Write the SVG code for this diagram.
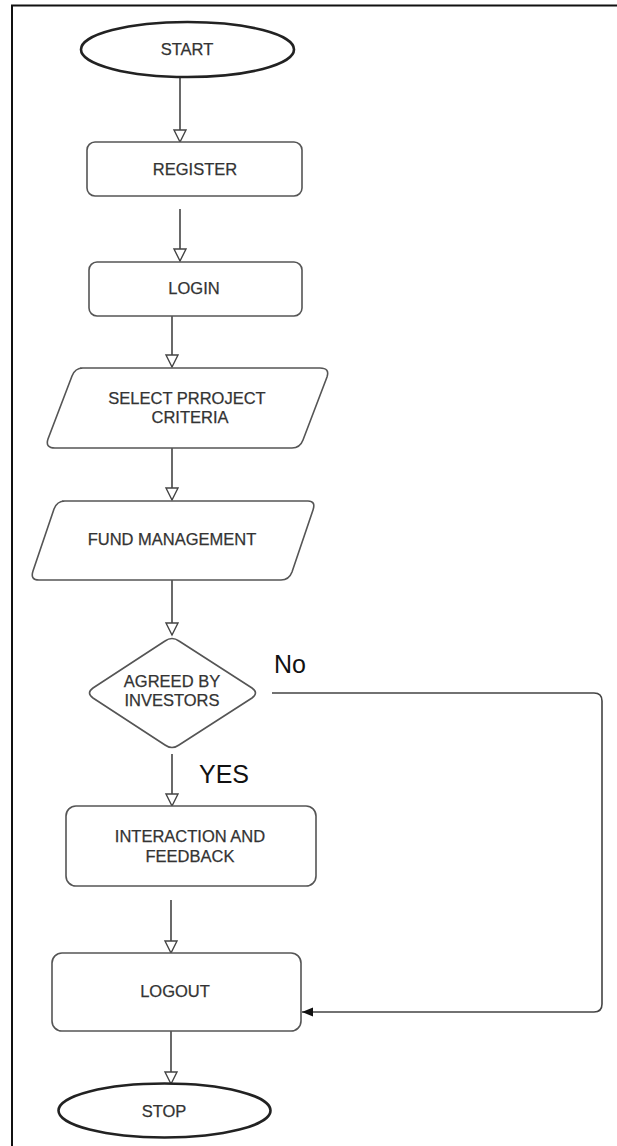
<svg xmlns="http://www.w3.org/2000/svg" width="617" height="1146" viewBox="0 0 617 1146">
<defs>
<style>
.box{fill:#fff;stroke:#555;stroke-width:1.6}
.term{fill:#fff;stroke:#222;stroke-width:2.6}
.lbl{font-family:"Liberation Sans",Arial,sans-serif;font-size:16.5px;fill:#333;text-anchor:middle;dominant-baseline:central;stroke:#333;stroke-width:0.25}
.big{font-family:"Liberation Sans",Arial,sans-serif;font-size:25px;fill:#111}
.edge{fill:none;stroke:#444;stroke-width:1.6}
</style>
<marker id="open" markerWidth="16" markerHeight="16" refX="13" refY="7" orient="auto" markerUnits="userSpaceOnUse">
<path d="M1,1 L13,7 L1,13 Z" fill="#fff" stroke="#444" stroke-width="1.4"/>
</marker>
<marker id="fill" markerWidth="14" markerHeight="12" refX="11" refY="6" orient="auto" markerUnits="userSpaceOnUse">
<path d="M0,1.5 L11,6 L0,10.5 Z" fill="#111"/>
</marker>
</defs>
<rect width="617" height="1146" fill="#fff"/>
<g id="frame" fill="none" stroke="#111" stroke-width="2">
<path d="M12,1146 L12,5.5 L617,5.5"/>
</g>
<g id="connectors">
<line class="edge" x1="180" y1="77" x2="180" y2="142" marker-end="url(#open)"/>
<line class="edge" x1="180" y1="209" x2="180" y2="261" marker-end="url(#open)"/>
<line class="edge" x1="172" y1="316" x2="172" y2="367" marker-end="url(#open)"/>
<line class="edge" x1="172" y1="448" x2="172" y2="500" marker-end="url(#open)"/>
<line class="edge" x1="172" y1="580" x2="172" y2="635" marker-end="url(#open)"/>
<line class="edge" x1="172" y1="754" x2="172" y2="806" marker-end="url(#open)"/>
<line class="edge" x1="171" y1="900" x2="171" y2="953" marker-end="url(#open)"/>
<line class="edge" x1="171" y1="1031" x2="171" y2="1084" marker-end="url(#open)"/>
<path class="edge" d="M272,693 L594,693 Q602,693 602,701 L602,1004 Q602,1012 594,1012 L302,1012" marker-end="url(#fill)"/>
<text class="big" x="274" y="673">No</text>
<text class="big" x="199" y="783">YES</text>
</g>
<g id="start">
<ellipse class="term" cx="187.5" cy="49.5" rx="106.5" ry="27.5"/>
<text class="lbl" x="187" y="49">START</text>
</g>
<g id="register">
<rect class="box" x="87" y="142" width="215" height="54" rx="8"/>
<text class="lbl" x="195" y="169">REGISTER</text>
</g>
<g id="login">
<rect class="box" x="89" y="262" width="213" height="54" rx="8"/>
<text class="lbl" x="194" y="288">LOGIN</text>
</g>
<g id="select">
<path class="box" d="M80,368 L320,368 Q330,368 327,377 L303,440 Q300,448 292,448 L55,448 Q45,448 48,439 L72,376 Q75,368 83,368 Z"/>
<text class="lbl" x="187" y="398">SELECT PRROJECT</text>
<text class="lbl" x="190" y="417">CRITERIA</text>
</g>
<g id="fund">
<path class="box" d="M62,501 L308,501 Q316,501 313,510 L292,572 Q289,580 281,580 L39,580 Q30,580 33,571 L54,509 Q57,501 65,501 Z"/>
<text class="lbl" x="172" y="539">FUND MANAGEMENT</text>
</g>
<g id="decision">
<path class="box" d="M165,641 Q172,636 179,641 L252,688 Q259,693 252,698 L179,745 Q172,750 165,745 L93,698 Q86,693 93,688 Z"/>
<text class="lbl" x="172" y="681">AGREED BY</text>
<text class="lbl" x="172" y="700">INVESTORS</text>
</g>
<g id="interaction">
<rect class="box" x="66" y="806" width="250" height="80" rx="10"/>
<text class="lbl" x="190" y="836">INTERACTION AND</text>
<text class="lbl" x="190" y="856">FEEDBACK</text>
</g>
<g id="logout">
<rect class="box" x="52" y="953" width="249" height="78" rx="10"/>
<text class="lbl" x="175" y="991">LOGOUT</text>
</g>
<g id="stop">
<ellipse class="term" cx="164.5" cy="1110.5" rx="106" ry="27"/>
<text class="lbl" x="164" y="1111">STOP</text>
</g>
</svg>
